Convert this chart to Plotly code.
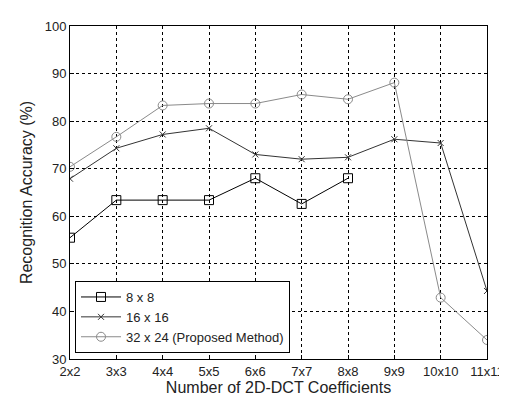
import plotly.graph_objects as go

categories = ["2x2", "3x3", "4x4", "5x5", "6x6", "7x7", "8x8", "9x9", "10x10", "11x11"]
s8x8 = [55.5, 63.4, 63.4, 63.4, 68.0, 62.6, 68.0]
s16x16 = [67.9, 74.3, 77.2, 78.5, 73.0, 72.0, 72.4, 76.2, 75.4, 44.3]
s32x24 = [70.4, 76.7, 83.3, 83.7, 83.7, 85.6, 84.6, 88.1, 42.9, 34.0]
y_ticks = [30, 40, 50, 60, 70, 80, 90, 100]

FONT = "Liberation Sans, Arial, sans-serif"
xi = list(range(len(categories)))

fig = go.Figure()
fig.add_trace(go.Scatter(
    x=xi[:len(s8x8)], y=s8x8, mode="lines+markers", name="8 x 8",
    line=dict(color="black", width=1),
    marker=dict(symbol="square-open", size=9, color="black", line=dict(width=1))))
fig.add_trace(go.Scatter(
    x=xi, y=s16x16, mode="lines+markers", name="16 x 16",
    line=dict(color="#333333", width=1),
    marker=dict(symbol="x-thin-open", size=6, color="#333333", line=dict(width=1, color="#333333"))))
fig.add_trace(go.Scatter(
    x=xi, y=s32x24, mode="lines+markers", name="32 x 24 (Proposed Method)",
    line=dict(color="#8a8a8a", width=1),
    marker=dict(symbol="circle-open", size=9, color="#8a8a8a", line=dict(width=1))))

fig.update_layout(
    width=507, height=396,
    margin=dict(l=62, r=19, t=11, b=45),
    paper_bgcolor="white", plot_bgcolor="white",
    font=dict(family=FONT, size=13, color="#222222"),
    showlegend=True,
    legend=dict(x=0.012, y=0.018, xanchor="left", yanchor="bottom",
                bordercolor="black", borderwidth=1, bgcolor="white",
                font=dict(family=FONT, size=13, color="#222222"),
                tracegroupgap=0, itemwidth=40),
    xaxis=dict(
        range=[0, len(categories) - 1],
        tickmode="array", tickvals=xi, ticktext=categories,
        showgrid=True, gridcolor="black", griddash="3px,3px", gridwidth=1,
        showline=True, linecolor="black", linewidth=1, mirror=True,
        ticks="inside", ticklen=4, tickcolor="black",
        zeroline=False,
        title=dict(text="Number of 2D-DCT Coefficients", font=dict(size=16, family=FONT, color="#222222"), standoff=3),
        tickfont=dict(size=13, family=FONT, color="#222222"),
    ),
    yaxis=dict(
        range=[30, 100],
        tickmode="array", tickvals=y_ticks, ticktext=[str(v) for v in y_ticks],
        showgrid=True, gridcolor="black", griddash="3px,3px", gridwidth=1,
        showline=True, linecolor="black", linewidth=1, mirror=True,
        ticks="inside", ticklen=4, tickcolor="black",
        zeroline=False,
        title=dict(text="Recognition Accuracy (%)", font=dict(size=16, family=FONT, color="#222222"), standoff=8),
        tickfont=dict(size=13, family=FONT, color="#222222"),
    ),
)

fig.write_html("out.html")
